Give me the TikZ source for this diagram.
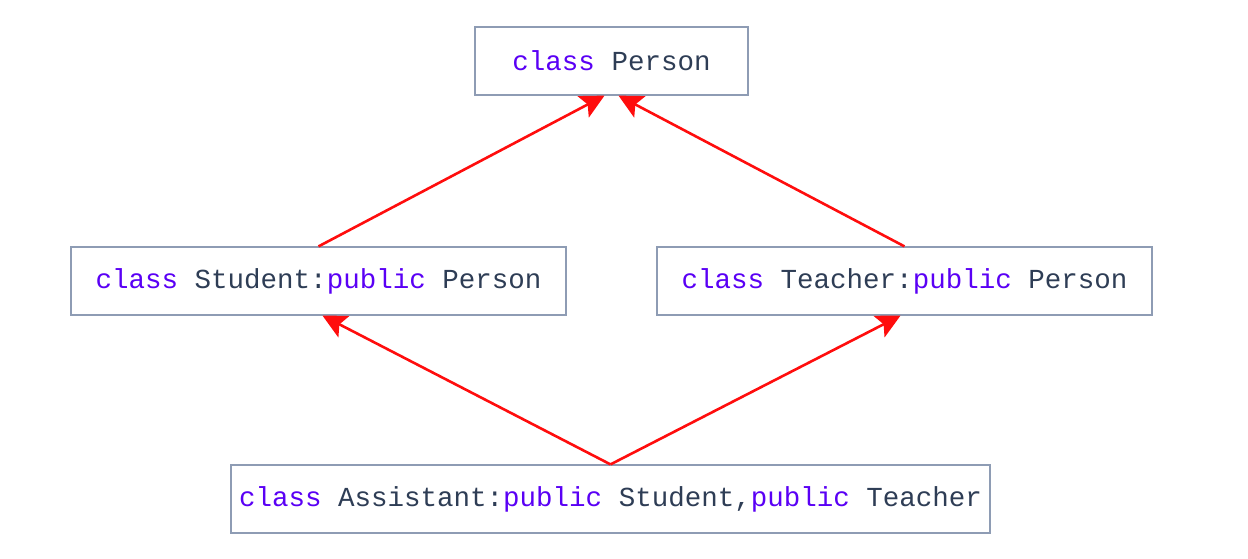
\documentclass[tikz,border=0pt]{standalone}
\usepackage{fontspec}
\setmonofont{Liberation Mono}
\usepackage{tikz}
\usetikzlibrary{arrows.meta}
\definecolor{kw}{HTML}{5A00F5}
\definecolor{ink}{HTML}{2E3D55}
\definecolor{frame}{HTML}{8E9CB4}
\definecolor{arr}{HTML}{FF0D0D}
\tikzset{
  cls/.style={draw=frame, line width=1.2pt, fill=white, minimum height=68pt,
    text=ink, font=\fontsize{27.5pt}{30pt}\ttfamily, inner sep=0pt},
  inh/.style={draw=arr, line width=2.6pt, -{Stealth[length=24pt,width=24pt,inset=5pt]}},
}
\newcommand{\kw}[1]{\textcolor{kw}{#1}}
\begin{document}
\begin{tikzpicture}[x=1pt,y=-1pt]
  \useasboundingbox (0,0) rectangle (1248,558);
  \node[cls,minimum width=273pt] (person) at (611.5,61) {\kw{class} Person};
  \node[cls,minimum width=495pt] (student) at (318.5,281) {\kw{class} Student:\kw{public} Person};
  \node[cls,minimum width=495pt] (teacher) at (904.5,281) {\kw{class} Teacher:\kw{public} Person};
  \node[cls,minimum width=759pt] (assistant) at (610.5,499) {\kw{class} Assistant:\kw{public} Student,\kw{public} Teacher};
  \draw[inh] (student.north) -- ([xshift=-7pt]person.south);
  \draw[inh] (teacher.north) -- ([xshift=7pt]person.south);
  \draw[inh] (assistant.north) -- ([xshift=4pt]student.south);
  \draw[inh] (assistant.north) -- ([xshift=-4pt]teacher.south);
\end{tikzpicture}
\end{document}
